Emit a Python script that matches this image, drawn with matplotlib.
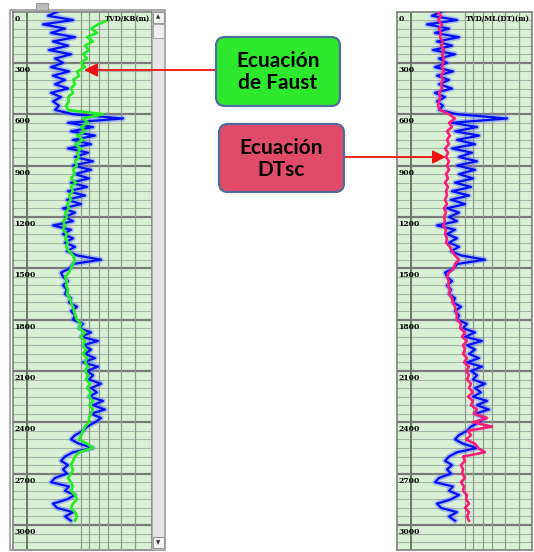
import matplotlib.pyplot as plt
from matplotlib.patches import FancyBboxPatch, Rectangle
import numpy as np

# depth samples (m), every 25 m
depth = np.arange(0, 3000, 25)

dt_blue = [45, 35, 60, 30, 52, 38, 62, 40, 55, 36, 58, 42, 50, 38, 56, 40, 52, 42, 55, 38, 48, 40, 46, 42,
           60, 110, 55, 80, 58, 82, 60, 78, 55, 75, 62, 80,
           60, 78, 62, 76, 58, 74, 55, 72, 54, 68, 50, 62,
           52, 60, 40, 58, 50, 60, 52, 62, 54, 64, 88, 60,
           57, 48, 50, 55, 50, 54, 52, 58, 56, 64, 58, 62,
           60, 70, 66, 78, 68, 85, 70, 78, 72, 82, 70, 85,
           74, 80, 76, 88, 78, 84, 76, 90, 80, 92, 78, 88,
           82, 74, 70, 62, 58, 66, 80, 60, 52, 48, 55, 50,
           54, 42, 38, 56, 52, 62, 54, 40, 44, 60, 52, 58]

# Faust equation curve (green), starts at 50 m
depth_faust = depth[2:]
dt_faust = [95, 85, 78, 84, 74, 80, 72, 76, 70, 74, 68, 72, 64, 66, 60, 62, 58, 60, 55, 56, 53, 55,
            90, 70, 75, 68, 72, 64, 70, 62, 68, 64, 66, 62,
            64, 60, 62, 58, 63, 58, 60, 56, 58, 54, 56, 52,
            54, 50, 52, 50, 54, 52, 55, 53, 56, 60, 62, 60,
            58, 56, 52, 54, 53, 55, 54, 57, 58, 60, 61, 62,
            64, 68, 66, 72, 68, 72, 70, 73, 70, 74, 72, 75,
            72, 75, 73, 77, 74, 78, 76, 80, 76, 80, 78, 76,
            76, 72, 70, 68, 66, 74, 80, 66, 62, 60, 58, 60,
            58, 55, 58, 60, 58, 62, 64, 60, 58, 62, 64, 62]

# DTsc equation curve (pink)
dt_dtsc = [40, 44, 41, 45, 42, 44, 43, 46, 44, 47, 45, 47, 46, 45, 47, 44, 46, 44, 45, 42, 43, 42, 41, 43,
           52, 58, 52, 55, 50, 53, 50, 52, 48, 51, 49, 52,
           50, 52, 49, 51, 48, 51, 49, 50, 48, 50, 47, 49,
           47, 48, 46, 49, 48, 50, 49, 53, 55, 58, 62, 58,
           57, 52, 50, 52, 51, 53, 52, 55, 56, 58, 59, 60,
           60, 64, 63, 68, 65, 70, 66, 68, 66, 70, 67, 72,
           69, 72, 70, 74, 72, 76, 71, 76, 74, 80, 77, 90,
           76, 95, 71, 74, 69, 78, 81, 88, 66, 68, 64, 66,
           65, 68, 64, 67, 66, 70, 69, 72, 68, 72, 70, 72]

depth_ticks = [0, 300, 600, 900, 1200, 1500, 1800, 2100, 2400, 2700, 3000]
vgrid = [14, 68, 76, 86, 95, 108, 122]

W, H = 534, 552
fig = plt.figure(figsize=(W / 100, H / 100), dpi=100)
fig.patch.set_facecolor("white")

bg = "#d8f1d4"
blue = "#0010ff"


def track(left, right, header, overlay, ymax=3146):
    ax = fig.add_axes([left / W, 2 / H, (right - left) / W, (550 - 11.5) / H])
    ax.set_facecolor(bg)
    ax.set_xlim(0, right - left)
    ax.set_ylim(ymax, 0)
    for d in np.arange(50, ymax, 50):
        major = d % 300 == 0
        ax.axhline(d, color="#7a7a7a" if major else "#a8b4a8",
                   lw=1.6 if major else 0.8, zorder=1)
    for i, v in enumerate(vgrid):
        ax.axvline(v, color="#707070" if i == 0 else "#8f9a8f",
                   lw=1.4 if i == 0 else 0.9, zorder=1)
    for d in depth_ticks:
        ax.text(1.5, d + 18, str(d), fontsize=5.5, fontweight="bold",
                family="DejaVu Serif", va="top", ha="left", zorder=5)
    ax.text(right - left - 2, 40, header, fontsize=5, fontweight="bold",
            family="DejaVu Serif", va="center", ha="right", zorder=5)
    ax.plot(dt_blue, depth, color="#5a6cff", lw=4.0, alpha=0.4, zorder=2)
    ax.plot(dt_blue, depth, color=blue, lw=1.6, zorder=3)
    ax.plot(overlay[0], overlay[1], color=overlay[2], lw=1.9, zorder=4)
    ax.set_xticks([])
    ax.set_yticks([])
    for s in ax.spines.values():
        s.set_color("#808080")
        s.set_linewidth(1.2)
    return ax


track(13, 152, "TVD/KB(m)", (dt_faust, depth_faust, "#22ee22"))
track(397, 532, "TVD/ML(DT)(m)", (dt_dtsc, depth, "#ff1f7a"))

# overlay in pixel coordinates for frame, scrollbar, boxes and arrows
ov = fig.add_axes([0, 0, 1, 1])
ov.set_xlim(0, W)
ov.set_ylim(H, 0)
ov.axis("off")
ov.patch.set_alpha(0)

ov.add_patch(Rectangle((10, 10), 155, 540, fill=False, ec="#9a9a9a", lw=1.2))
ov.add_patch(Rectangle((36, 3), 12, 7, fc="#bdbdbd", ec="#9a9a9a", lw=0.8))
ov.add_patch(Rectangle((152, 11), 12, 538, fc="#e6e6e6", ec="#b0b0b0", lw=0.8))
ov.add_patch(Rectangle((152.5, 11.5), 11, 11, fc="#f4f4f4", ec="#999999", lw=0.8))
ov.add_patch(Rectangle((152.5, 24), 11, 14, fc="#f0f0f0", ec="#aaaaaa", lw=0.8))
ov.add_patch(Rectangle((152.5, 537), 11, 11, fc="#f4f4f4", ec="#999999", lw=0.8))
ov.text(158, 17, "▲", fontsize=4, ha="center", va="center", color="#333333")
ov.text(158, 542.5, "▼", fontsize=4, ha="center", va="center", color="#333333")

font = ["Lato", "DejaVu Sans"]
box1 = FancyBboxPatch((216, 37), 124, 69, boxstyle="round,pad=0,rounding_size=9",
                      fc="#2ee82e", ec="#4f6e9c", lw=1.6, zorder=5)
box2 = FancyBboxPatch((219, 124), 125, 68, boxstyle="round,pad=0,rounding_size=9",
                      fc="#e04c68", ec="#4f6e9c", lw=1.6, zorder=5)
ov.add_patch(box1)
ov.add_patch(box2)
ov.text(278, 72, "Ecuación\nde Faust", fontsize=15, family=font, fontweight="bold",
        ha="center", va="center", linespacing=1.15, zorder=6)
ov.text(281, 159, "Ecuación\nDTsc", fontsize=15, family=font, fontweight="bold",
        ha="center", va="center", linespacing=1.15, zorder=6)

ov.annotate("", xy=(84, 70), xytext=(216, 70),
            arrowprops=dict(arrowstyle="-|>,head_length=0.8,head_width=0.4",
                            color="#ee1111", lw=1.3, shrinkA=0, shrinkB=0))
ov.annotate("", xy=(446, 157), xytext=(344, 157),
            arrowprops=dict(arrowstyle="-|>,head_length=0.8,head_width=0.4",
                            color="#ee1111", lw=1.3, shrinkA=0, shrinkB=0))

fig.savefig("out.png", dpi=100)
